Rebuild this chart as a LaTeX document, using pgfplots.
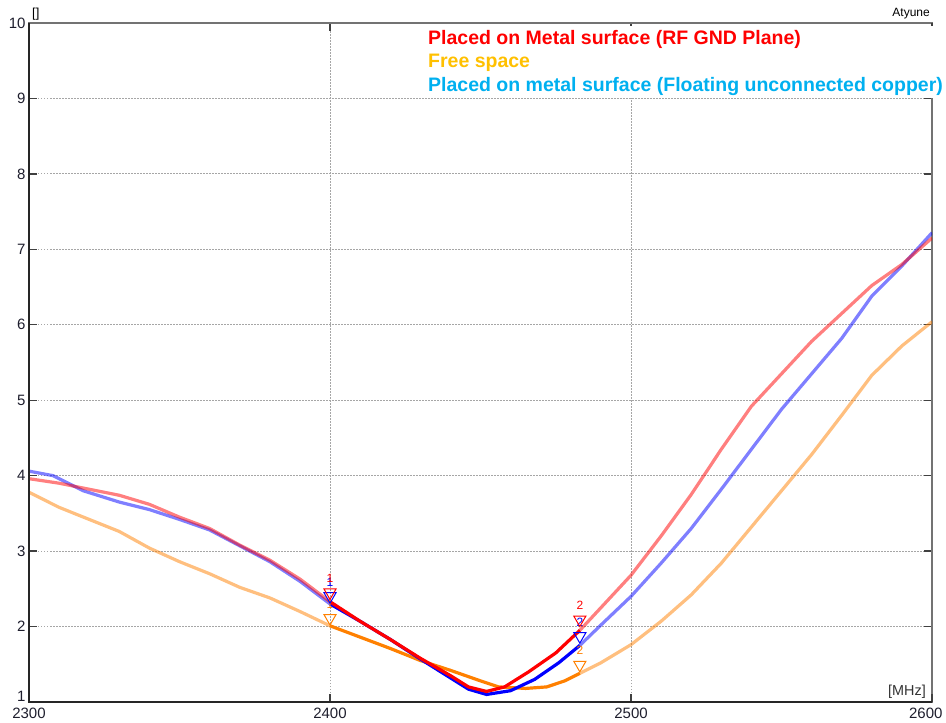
\documentclass[border=0pt]{standalone}
\usepackage{pgfplots}
\pgfplotsset{compat=1.18}
\usepackage{fontspec}
\setmainfont{Liberation Sans}

\definecolor{gndred}{RGB}{255,0,0}
\definecolor{freeor}{RGB}{255,128,0}
\definecolor{floatbl}{RGB}{0,0,255}
\definecolor{legor}{RGB}{255,192,0}
\definecolor{legbl}{RGB}{0,176,240}
\definecolor{ticktxt}{RGB}{30,30,45}

\begin{document}
\begin{tikzpicture}
\begin{axis}[
    scale only axis,
    width=903pt, height=679pt,
    xmin=2300, xmax=2600, ymin=1, ymax=10,
    xtick={2300,2400,2500},
    extra x ticks={2600},
    extra x tick style={grid=none, tick label style={anchor=north east, xshift=14pt}},
    ytick={2,3,...,10},
    extra y ticks={1},
    extra y tick style={grid=none, tick label style={yshift=6pt}},
    /pgf/number format/1000 sep={},
    /pgf/number format/assume math mode=true,
    tick label style={font=\fontsize{15}{17}\selectfont, text=ticktxt},
    xticklabel style={yshift=-2pt},
    tick align=inside,
    major tick length=8pt,
    tick style={black!75, line width=1.3pt},
    axis line style={black!55, line width=1.6pt},
    grid=major,
    major grid style={black!35, line width=0.8pt, dash pattern=on 1.5pt off 1.5pt},
  ]
  % faded parts outside the band
  \addplot[draw=freeor, draw opacity=0.5, line width=3.2pt] coordinates {
    (2300,3.78) (2310,3.58) (2320,3.42) (2330,3.26) (2340,3.04) (2350,2.86)
    (2360,2.70) (2370,2.52) (2380,2.38) (2390,2.20) (2400,2.01)};
  \addplot[draw=freeor, draw opacity=0.5, line width=3.2pt] coordinates {
    (2483,1.38) (2490,1.52) (2500,1.76) (2510,2.07) (2520,2.42) (2530,2.84)
    (2540,3.32) (2550,3.80) (2560,4.28) (2570,4.80) (2580,5.33) (2590,5.72) (2600,6.04)};
  \addplot[draw=floatbl, draw opacity=0.5, line width=3.2pt] coordinates {
    (2300,4.06) (2308,4.00) (2312,3.92) (2318,3.80) (2330,3.65) (2340,3.55)
    (2350,3.42) (2360,3.28) (2370,3.07) (2380,2.86) (2390,2.60) (2400,2.30)};
  \addplot[draw=floatbl, draw opacity=0.5, line width=3.2pt] coordinates {
    (2483,1.75) (2490,2.02) (2500,2.40) (2510,2.84) (2520,3.30) (2530,3.82)
    (2540,4.35) (2550,4.88) (2560,5.35) (2570,5.82) (2580,6.38) (2590,6.78) (2600,7.22)};
  \addplot[draw=gndred, draw opacity=0.5, line width=3.2pt] coordinates {
    (2300,3.96) (2310,3.90) (2320,3.82) (2330,3.74) (2340,3.62) (2350,3.45)
    (2360,3.30) (2370,3.08) (2380,2.88) (2390,2.63) (2400,2.33)};
  \addplot[draw=gndred, draw opacity=0.5, line width=3.2pt] coordinates {
    (2483,1.95) (2490,2.25) (2500,2.68) (2510,3.20) (2520,3.75) (2530,4.35)
    (2540,4.92) (2550,5.35) (2560,5.78) (2570,6.15) (2580,6.52) (2590,6.80) (2600,7.15)};
  % band 2400-2483
  \addplot[draw=freeor, line width=3.2pt] coordinates {
    (2400,2.01) (2410,1.86) (2420,1.71) (2430,1.55) (2440,1.42) (2450,1.28)
    (2456,1.20) (2465,1.18) (2472,1.20) (2478,1.28) (2483,1.38)};
  \addplot[draw=floatbl, line width=3.2pt] coordinates {
    (2400,2.30) (2410,2.07) (2420,1.83) (2430,1.57) (2440,1.32) (2446,1.17)
    (2452,1.10) (2460,1.15) (2468,1.30) (2476,1.52) (2483,1.75)};
  \addplot[draw=gndred, line width=3.2pt] coordinates {
    (2400,2.33) (2410,2.07) (2420,1.83) (2430,1.58) (2440,1.35) (2446,1.20)
    (2452,1.14) (2458,1.20) (2466,1.40) (2475,1.65) (2483,1.95)};
  % markers 1 and 2
  \addplot[only marks, mark=triangle, mark size=7pt,
    mark options={draw=freeor, fill=white, line width=1pt, yshift=7pt, rotate=180},
    nodes near coords, point meta=explicit symbolic,
    nodes near coords style={font=\fontsize{12}{13}\selectfont, text=freeor, anchor=south, yshift=6pt}]
    coordinates {(2400,2.02) [1] (2483,1.40) [2]};
  \addplot[only marks, mark=triangle, mark size=7pt,
    mark options={draw=floatbl, fill=white, line width=1pt, yshift=7pt, rotate=180},
    nodes near coords, point meta=explicit symbolic,
    nodes near coords style={font=\fontsize{12}{13}\selectfont, text=floatbl, anchor=south, yshift=6pt}]
    coordinates {(2400,2.31) [1] (2483,1.78) [2]};
  \addplot[only marks, mark=triangle, mark size=7pt,
    mark options={draw=gndred, fill=white, line width=1pt, yshift=7pt, rotate=180},
    nodes near coords, point meta=explicit symbolic,
    nodes near coords style={font=\fontsize{12}{13}\selectfont, text=gndred, anchor=south, yshift=6pt}]
    coordinates {(2400,2.36) [1] (2483,2.00) [2]};
  \coordinate (bl) at (rel axis cs:0,0);
  \coordinate (tr) at (rel axis cs:1,1);
\end{axis}
% darker left and bottom frame
\draw[black!85, line width=1.8pt] (bl |- tr) -- (bl) -- (tr |- bl);
% legend box
\fill[white] ([shift={(-510pt,-3pt)}]tr) rectangle ([shift={(14pt,-75pt)}]tr);
\begin{scope}[every node/.style={anchor=base west, inner sep=0pt, font=\fontsize{19.5}{22}\selectfont\bfseries}]
  \node[text=gndred] at ([shift={(-504pt,-22pt)}]tr) {Placed on Metal surface (RF GND Plane)};
  \node[text=legor] at ([shift={(-504pt,-45pt)}]tr) {Free space};
  \node[text=legbl] at ([shift={(-504pt,-69pt)}]tr) {Placed on metal surface (Floating unconnected copper)};
\end{scope}
\node[anchor=base west, inner sep=0pt, font=\fontsize{13}{14}\selectfont] at ([shift={(3pt,5pt)}]bl |- tr) {[]};
\node[anchor=base east, inner sep=0pt, font=\fontsize{12}{14}\selectfont] at ([shift={(-2pt,6pt)}]tr) {Atyune};
\node[anchor=base east, inner sep=0pt, text=black!80, font=\fontsize{14.4}{16}\selectfont] at ([shift={(-6pt,7pt)}]tr |- bl) {[MHz]};
\pgfresetboundingbox
\path[use as bounding box] ([shift={(-29pt,-20pt)}]bl) rectangle ([shift={(14pt,23pt)}]tr);
\end{tikzpicture}
\end{document}
